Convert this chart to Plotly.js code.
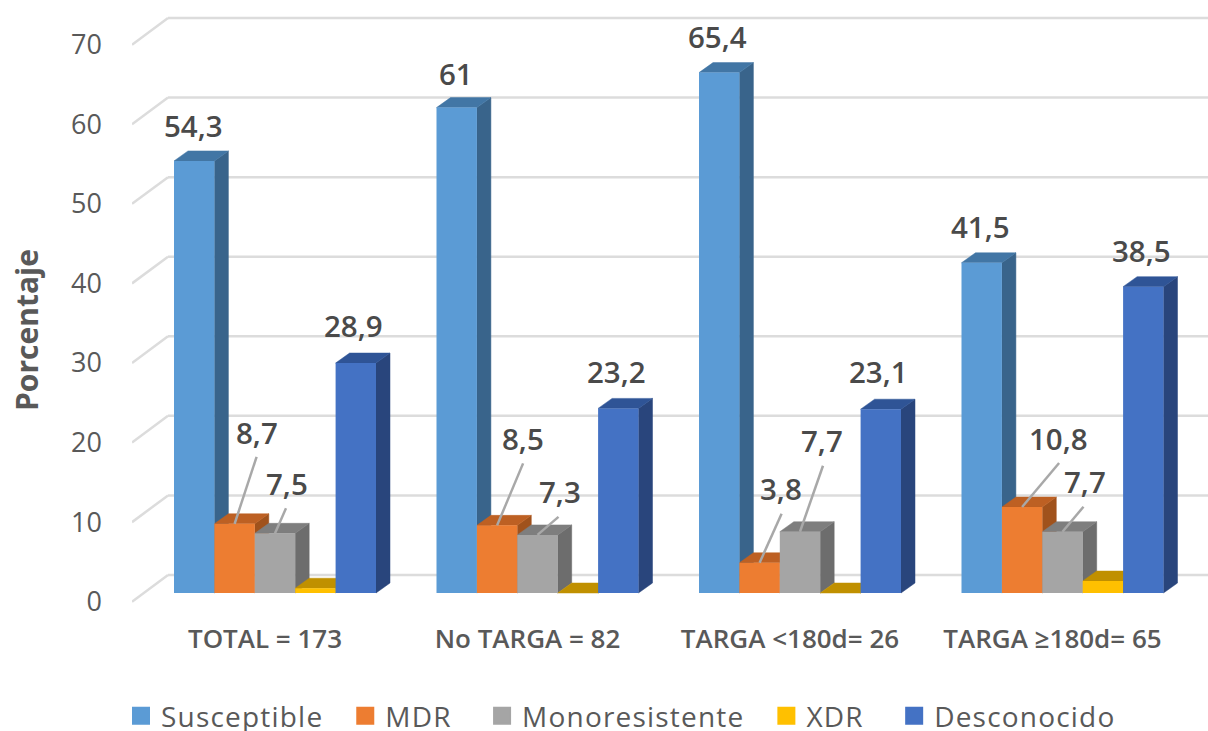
<!DOCTYPE html>
<html>
<head>
<meta charset="utf-8">
<script src="https://cdn.plot.ly/plotly-3.0.1.min.js"></script>
<style>
html,body{margin:0;padding:0;background:#fff}
.legendtext{letter-spacing:1.2px}
</style>
</head>
<body>
<div id="chart" style="width:1208px;height:731px"></div>
<script>
// Resistance profile by treatment group
const groups = ['TOTAL = 173', 'No TARGA = 82', 'TARGA <180d= 26', 'TARGA ≥180d= 65'];
const susceptible    = [54.3, 61, 65.4, 41.5];
const mdr            = [8.7, 8.5, 3.8, 10.8];
const monoresistente = [7.5, 7.3, 7.7, 7.7];
const xdr            = [0.6, 0, 0, 1.5];
const desconocido    = [28.9, 23.2, 23.1, 38.5];
const yTicks = [0, 10, 20, 30, 40, 50, 60, 70];

// Pseudo-3D geometry, in pixels of the 1208x731 page
const W = 1208, H = 731, plotLeft = 132, plotBottom = 660;
const groupStep = 262.5, firstCentre = 275, barPx = 40.4;
const pxPerUnit = 7.957;
const depthX = 14, depthY = 10;
const frontZero = 601.7, barZero = 593, wallZero = 575, wallLeft = 168;

const xUnit = px => px / groupStep;
const yUnit = px => px / pxPerUnit;
const xPos = px => (px - firstCentre) / groupStep;
const xRange = [xPos(plotLeft), xPos(W)];
const yRangeFor = zero => [(zero - plotBottom) / pxPerUnit, zero / pxPerUnit];

const series = [
  {name: 'Susceptible',    values: susceptible,    front: '#5b9bd5', top: '#4276a5', side: '#39648b'},
  {name: 'MDR',            values: mdr,            front: '#ed7d31', top: '#bd6023', side: '#a0521c'},
  {name: 'Monoresistente', values: monoresistente, front: '#a5a5a5', top: '#7e7e7e', side: '#6d6d6d'},
  {name: 'XDR',            values: xdr,            front: '#ffc000', top: '#c09000', side: '#a67c00'},
  {name: 'Desconocido',    values: desconocido,    front: '#4472c4', top: '#2f5496', side: '#29457c'}
];

// Label placement relative to each bar's top, in pixels [one row per series]
const labelLift = 1.5;
const labelDx = [[-1, -0.5, -2, -1.5], [22.4, 26, 21, 36], [12, 22, 22, 22.5], null, [-2, -1.5, -2, -2]];
const labelDy = [[-34, -33, -35, -35], [-90, -85, -73, -67], [-48, -42, -90, -49], null, [-36, -35, -36, -35]];
// Leader lines for the short bars
const leaderDx = {1: [22, 26, 22, 37], 2: [11, 21, 23, 21]};
const leaderDy = {1: [-67, -62, -49, -44], 2: [-25, -18, -66, -25]};
// Trailing spaces that widen the gap after each legend entry
const legendPad = [2, 3, 2, 3, 0];

const barX = (g, s) => g + xUnit((s - 2) * barPx);
const halfBar = xUnit(barPx / 2);

const traces = [];

// Back wall gridlines, painted first so every bar covers them
const gx = [], gy = [];
const wallLift = yUnit(barZero - wallZero);
yTicks.forEach(t => {
  gx.push(xPos(wallLeft), xPos(W), null);
  gy.push(t + wallLift, t + wallLift, null);
});
traces.push({type: 'scatter', mode: 'lines', x: gx, y: gy, xaxis: 'x', yaxis: 'y',
  line: {color: '#dcdcdc', width: 2.5}, hoverinfo: 'skip', showlegend: false});

// Side and top faces sit underneath the front faces, painted left to right
series.forEach((ser, s) => {
  const sx = [], sy = [], tx = [], ty = [];
  ser.values.forEach((v, g) => {
    const x0 = barX(g, s) - halfBar, x1 = barX(g, s) + halfBar;
    const dx = xUnit(depthX), dy = yUnit(depthY);
    sx.push(x1, x1 + dx, x1 + dx, x1, x1, null);
    sy.push(0, dy, v + dy, v, 0, null);
    tx.push(x0, x1, x1 + dx, x0 + dx, x0, null);
    ty.push(v, v, v + dy, v + dy, v, null);
  });
  [[sx, sy, ser.side], [tx, ty, ser.top]].forEach(([x, y, color]) => {
    traces.push({type: 'scatter', mode: 'lines', x, y, xaxis: 'x', yaxis: 'y',
      fill: 'toself', fillcolor: color, line: {width: 0.5, color},
      hoverinfo: 'skip', showlegend: false});
  });
});

// Front faces
series.forEach((ser, s) => {
  traces.push({type: 'bar', name: ser.name, x: groups.map((_, g) => barX(g, s)), y: ser.values,
    width: xUnit(barPx), xaxis: 'x', yaxis: 'y2', showlegend: false,
    marker: {color: ser.front, line: {width: 0}}, hovertemplate: ser.name + ': %{y}<extra></extra>'});
});

// Leader lines from the short bars to their labels
const lx = [], ly = [];
[1, 2].forEach(s => series[s].values.forEach((v, g) => {
  lx.push(barX(g, s), barX(g, s) + xUnit(leaderDx[s][g]), null);
  ly.push(v, v - yUnit(leaderDy[s][g]), null);
}));
traces.push({type: 'scatter', mode: 'lines', x: lx, y: ly, xaxis: 'x', yaxis: 'y2',
  line: {color: '#a8a8a8', width: 2.5}, hoverinfo: 'skip', showlegend: false});

// Side wall: each gridline continues diagonally towards the viewer
const wx = [], wy = [];
const wallSpanX = xUnit(wallLeft - plotLeft), wallSpanY = yUnit(frontZero - wallZero);
yTicks.forEach(t => {
  wx.push(xRange[0], xRange[0] + wallSpanX, null);
  wy.push(t, t + wallSpanY, null);
});
traces.push({type: 'scatter', mode: 'lines', x: wx, y: wy, xaxis: 'x', yaxis: 'y3',
  line: {color: '#dcdcdc', width: 2.5}, hoverinfo: 'skip', showlegend: false});

// Legend entries with larger square swatches
series.forEach((ser, s) => {
  traces.push({type: 'scatter', mode: 'markers', name: ser.name + '\u00a0'.repeat(legendPad[s]), x: [null], y: [null], xaxis: 'x', yaxis: 'y2',
    marker: {symbol: 'square', size: 16, color: ser.front, line: {width: 2, color: ser.front}}, hoverinfo: 'skip'});
});

const annotations = [];
series.forEach((ser, s) => {
  if (!labelDx[s]) return;
  ser.values.forEach((v, g) => annotations.push({
    x: barX(g, s), y: v, xref: 'x', yref: 'y2', showarrow: false,
    text: String(v).replace('.', ','), xshift: labelDx[s][g], yshift: labelLift - labelDy[s][g],
    xanchor: 'center', yanchor: 'middle',
    font: {family: 'Open Sans', size: 29.5, color: '#4a4a4a', weight: 600}
  }));
});

const layout = {
  width: W, height: H,
  margin: {l: plotLeft, r: 0, t: 0, b: H - plotBottom, pad: 0, autoexpand: false},
  paper_bgcolor: '#ffffff', plot_bgcolor: 'rgba(0,0,0,0)',
  barmode: 'overlay', hovermode: 'closest',
  showlegend: true,
  legend: {orientation: 'h', x: (121 - plotLeft) / (W - plotLeft), xanchor: 'left',
    y: (plotBottom - 716) / plotBottom, yanchor: 'middle', itemsizing: 'trace',
    font: {family: 'Open Sans', size: 28, color: '#595959'}, bgcolor: 'rgba(0,0,0,0)', traceorder: 'normal'},
  xaxis: {range: xRange, fixedrange: true, anchor: 'free', position: (plotBottom - frontZero) / plotBottom,
    tickvals: groups.map((_, g) => g - xUnit(10)), ticktext: groups, ticks: '', showgrid: false, zeroline: false,
    showline: false, ticklabelstandoff: 19,
    tickfont: {family: 'Open Sans', size: 26, color: '#595959', weight: 600}},
  yaxis: {range: yRangeFor(barZero), visible: false, fixedrange: true},
  yaxis2: {range: yRangeFor(barZero), visible: false, fixedrange: true, overlaying: 'y'},
  yaxis3: {range: yRangeFor(frontZero), overlaying: 'y', anchor: 'x', side: 'left', fixedrange: true,
    tickvals: yTicks, showgrid: false, zeroline: false, showline: false, ticks: '', ticklabelstandoff: 29,
    tickfont: {family: 'Open Sans', size: 27, color: '#595959'},
    title: {text: 'Porcentaje', standoff: 23, font: {family: 'Open Sans', size: 30, color: '#595959', weight: 700}}},
  annotations
};

Plotly.newPlot('chart', traces, layout, {staticPlot: true, displayModeBar: false});
</script>
</body>
</html>
